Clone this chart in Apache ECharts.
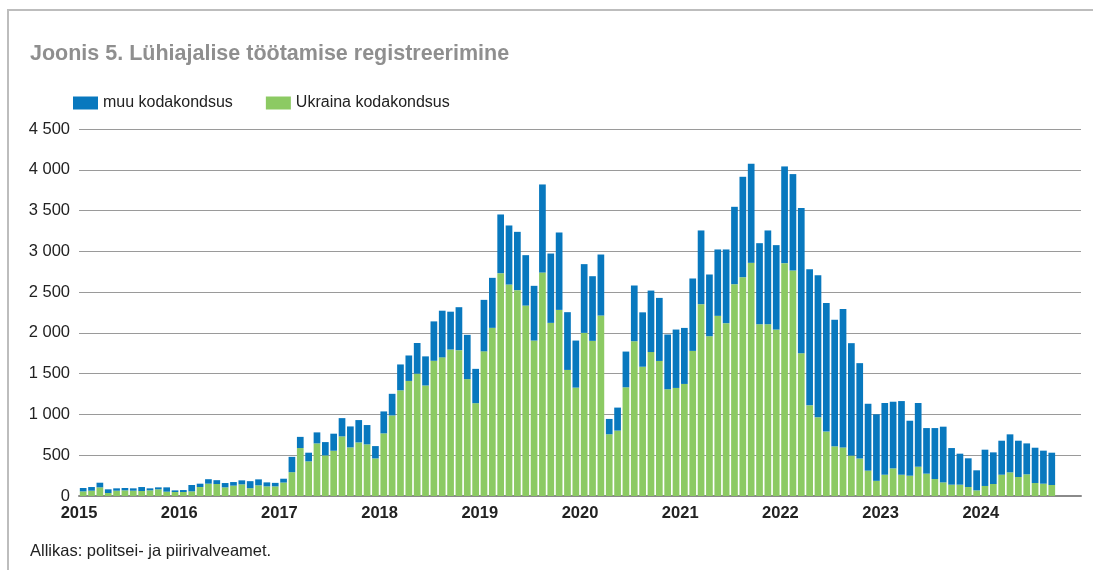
<!DOCTYPE html>
<html>
<head>
<meta charset="utf-8">
<script src="https://cdn.jsdelivr.net/npm/echarts@6/dist/echarts.min.js"></script>
<style>
  html, body { margin: 0; padding: 0; background: #fff; }
  #chart { width: 1093px; height: 570px; }
</style>
</head>
<body>
<div id="chart"></div>
<script>
// monthly registrations, Jan 2015 .. Sep 2024
const firstYear = 2015;
const yearLabels = ["2015", "2016", "2017", "2018", "2019", "2020", "2021", "2022", "2023", "2024"];
const seriesNames = ["muu kodakondsus", "Ukraina kodakondsus"];

const ukraina = [
  57, 65, 106, 37, 65, 69, 65, 61, 69, 82, 53, 49,
  49, 57, 110, 151, 147, 106, 127, 143, 96, 131, 118, 118,
  165, 292, 588, 425, 645, 498, 555, 731, 596, 657, 633, 461,
  768, 988, 1296, 1411, 1500, 1355, 1658, 1700, 1796, 1788, 1433, 1138,
  1774, 2062, 2732, 2593, 2524, 2335, 1906, 2740, 2123, 2282, 1546, 1329,
  2000, 1902, 2213, 757, 802, 1333, 1898, 1585, 1765, 1656, 1309, 1325,
  1374, 1779, 2352, 1959, 2209, 2119, 2597, 2683, 2859, 2106, 2106, 2041,
  2855, 2765, 1751, 1112, 965, 790, 609, 595, 495, 460, 311, 186,
  261, 339, 261, 249, 359, 274, 208, 167, 139, 139, 110, 69,
  123, 147, 261, 290, 233, 266, 159, 151, 135
];

const muu = [
  41, 45, 57, 45, 29, 29, 29, 49, 25, 24, 53, 20,
  24, 78, 41, 55, 47, 53, 44, 49, 86, 73, 49, 43,
  47, 188, 137, 106, 135, 163, 209, 224, 257, 274, 237, 151,
  269, 265, 317, 312, 376, 357, 483, 572, 464, 527, 543, 421,
  631, 613, 720, 724, 715, 618, 671, 1080, 850, 949, 708, 577,
  843, 793, 748, 188, 282, 438, 683, 667, 754, 773, 671, 716,
  687, 888, 904, 757, 814, 904, 949, 1231, 1215, 994, 1150, 1035,
  1186, 1182, 1779, 1669, 1743, 1578, 1552, 1698, 1379, 1169, 820, 816,
  879, 817, 903, 674, 781, 559, 625, 683, 449, 380, 352, 246,
  445, 388, 417, 466, 445, 379, 433, 405, 396
];

// one category per month over ten years (last months empty)
const months = [];
for (let i = 0; i < yearLabels.length * 12; i++) {
  months.push(firstYear + Math.floor(i / 12) + "-" + String(i % 12 + 1).padStart(2, "0"));
}

const font = "'Liberation Sans', Arial, Helvetica, sans-serif";

function fmtThousands(v) {
  if (v < 1000) return String(v);
  const s = String(v);
  return s.slice(0, s.length - 3) + " " + s.slice(-3);
}

const chart = echarts.init(document.getElementById("chart"), null, { renderer: "canvas" });

const option = {
  animation: false,
  backgroundColor: "#fff",
  textStyle: { fontFamily: font },
  title: {
    text: "Joonis 5. Lühiajalise töötamise registreerimine",
    left: 30,
    top: 43,
    padding: 0,
    textStyle: { fontFamily: font, fontSize: 21.5, fontWeight: "bold", color: "#8f8f8f" }
  },
  legend: {
    data: seriesNames,
    left: 73,
    top: 95,
    padding: 0,
    itemWidth: 25,
    itemHeight: 13,
    itemGap: 33,
    icon: "rect",
    textStyle: { fontFamily: font, fontSize: 16, color: "#222" }
  },
  grid: { left: 79, top: 129, width: 1002, height: 367 },
  xAxis: [
    {
      // bars
      type: "category",
      data: months,
      boundaryGap: true,
      axisLine: { show: true, lineStyle: { color: "#8a8a8a", width: 2 } },
      axisTick: { show: false },
      axisLabel: { show: false },
      splitLine: { show: false }
    },
    {
      // year labels at the year boundaries
      type: "value",
      position: "bottom",
      min: 0,
      max: 120,
      interval: 12,
      axisLine: { show: false },
      axisTick: { show: false },
      splitLine: { show: false },
      axisLabel: {
        showMaxLabel: false,
        margin: 9,
        fontFamily: font,
        fontSize: 16.5,
        fontWeight: "bold",
        color: "#222",
        formatter: v => yearLabels[v / 12] || ""
      }
    }
  ],
  yAxis: {
    type: "value",
    min: 0,
    max: 4500,
    interval: 500,
    axisLine: { show: false },
    axisTick: { show: false },
    splitLine: { lineStyle: { color: "#9a9a9a", width: 1 } },
    axisLabel: {
      margin: 9,
      fontFamily: font,
      fontSize: 16.5,
      color: "#222",
      formatter: fmtThousands
    }
  },
  graphic: [
    { type: "line", silent: true, shape: { x1: 8, y1: 10, x2: 8, y2: 570 }, style: { stroke: "#bdbdbd", lineWidth: 2 } },
    { type: "line", silent: true, shape: { x1: 7, y1: 10, x2: 1093, y2: 10 }, style: { stroke: "#bdbdbd", lineWidth: 2 } },
    {
      type: "text",
      left: 30,
      top: 543,
      style: { text: "Allikas: politsei- ja piirivalveamet.", font: "16.5px " + font, fill: "#222" }
    }
  ],
  series: [
    {
      name: seriesNames[1],
      type: "bar",
      stack: "total",
      barWidth: 6.7,
      itemStyle: { color: "#8cca63" },
      data: ukraina
    },
    {
      name: seriesNames[0],
      type: "bar",
      stack: "total",
      barWidth: 6.7,
      itemStyle: { color: "#0878be" },
      data: muu
    }
  ]
};

chart.setOption(option);
</script>
</body>
</html>
